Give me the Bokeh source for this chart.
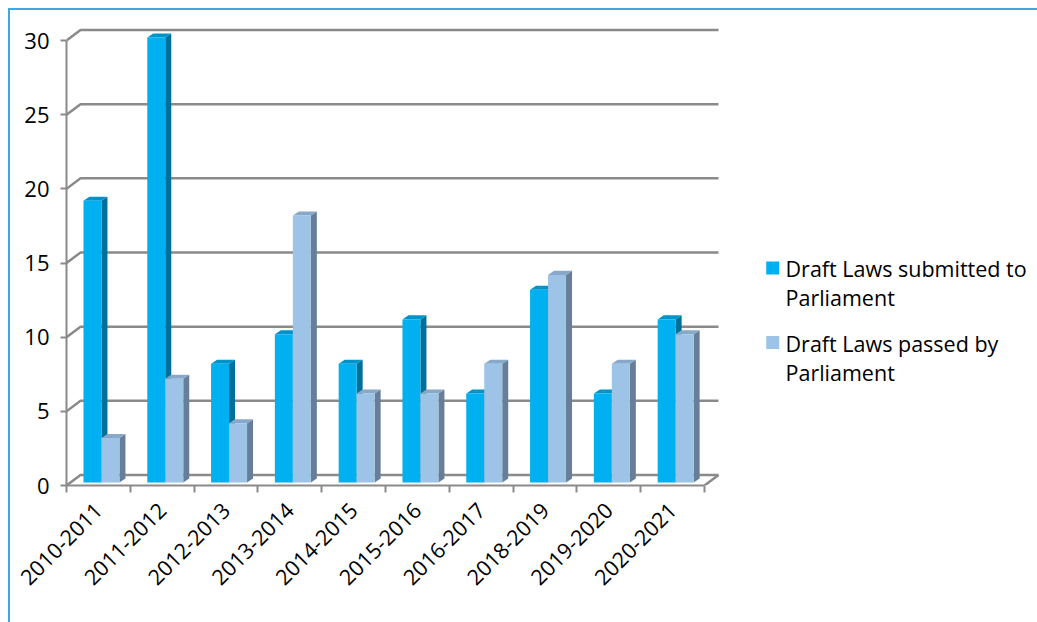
import numpy as np
from bokeh.plotting import figure
from bokeh.models import FixedTicker, Range1d
from bokeh.core.properties import value
from bokeh.embed import file_html
from bokeh.resources import INLINE

# ---- data ----
periods = ["2010-2011", "2011-2012", "2012-2013", "2013-2014", "2014-2015",
           "2015-2016", "2016-2017", "2018-2019", "2019-2020", "2020-2021"]
submitted = [19, 30, 8, 10, 8, 11, 6, 13, 6, 11]
passed = [3, 7, 4, 18, 6, 6, 8, 14, 8, 10]
y_ticks = [0, 5, 10, 15, 20, 25, 30]
legend_lines = [["Draft Laws submitted to", "Parliament"],
                ["Draft Laws passed by", "Parliament"]]

FONT = "Open Sans"
GRID = "#8a8a8a"

W, H = 1029, 614
p = figure(width=W, height=H, output_backend="svg", toolbar_location=None,
           x_range=Range1d(0, 15.22), y_range=Range1d(0, 31.35),
           min_border_left=58, min_border_right=0, min_border_top=12,
           min_border_bottom=H - 12 - 465)
p.outline_line_color = None
p.xgrid.visible = False
p.ygrid.visible = False
p.background_fill_color = "white"
p.border_fill_color = None
p.styles = {"margin-left": "8px", "margin-top": "8px",
            "box-shadow": "inset 2px 2px 0 #3fa5e3"}

# 3D geometry (in data units)
wall_dx, wall_dy = 0.22, 0.71      # back wall offset
n = len(periods)
wall_end = n + wall_dx

# back-wall gridlines with left diagonals
xs, ys = [], []
for v in y_ticks:
    xs.append([0, wall_dx, wall_end])
    ys.append([v, v + wall_dy, v + wall_dy])
xs.append([n, n + wall_dx])
ys.append([0, wall_dy])
p.multi_line(xs, ys, line_color=GRID, line_width=2.5)

# bars
bw = 0.282
off = [0.266, 0.266 + bw]
bar_dx, bar_dy = 0.094, 0.27
base = 0.2
series = [(submitted, "#00B0F0", "#0093C9", "#00709A"),
          (passed, "#9DC3E6", "#87A8C8", "#667E98")]
for k, (vals, cf, ct, cs) in enumerate(series):
    x0 = [i + off[k] for i in range(n)]
    x1 = [x + bw for x in x0]
    side_x = [[a, a + bar_dx, a + bar_dx, a] for a in x1]
    side_y = [[base, base + bar_dy, base + v + bar_dy, base + v] for v in vals]
    top_x = [[a, a + bar_dx, b + bar_dx, b] for a, b in zip(x0, x1)]
    top_y = [[base + v, base + v + bar_dy, base + v + bar_dy, base + v] for v in vals]
    p.patches(side_x, side_y, fill_color=cs, line_color=None)
    p.patches(top_x, top_y, fill_color=ct, line_color=None)
    p.quad(left=x0, right=x1, bottom=[base] * n, top=[base + v for v in vals],
           fill_color=cf, line_color=None)

# y axis
ya = p.yaxis[0]
ya.ticker = FixedTicker(ticks=y_ticks, minor_ticks=[])
ya.bounds = (0, 30)
ya.axis_line_color = GRID
ya.axis_line_width = 2
ya.major_tick_line_color = GRID
ya.major_tick_line_width = 2
ya.major_tick_out = 6
ya.major_tick_in = 0
ya.minor_tick_line_color = None
ya.major_label_text_font = FONT
ya.major_label_text_font_size = "22px"
ya.major_label_text_color = "#000000"
ya.major_label_standoff = 11

# x axis
xa = p.xaxis[0]
centers = [i + 0.5 for i in range(n)]
xa.ticker = FixedTicker(ticks=centers, minor_ticks=list(range(n + 1)))
xa.major_label_overrides = {c: lab for c, lab in zip(centers, periods)}
xa.bounds = (0, n)
xa.axis_line_color = GRID
xa.axis_line_width = 2
xa.major_tick_line_color = None
xa.minor_tick_line_color = GRID
xa.minor_tick_line_width = 2
xa.minor_tick_out = 7
xa.minor_tick_in = 0
xa.major_label_orientation = np.pi / 4
xa.major_label_text_font = FONT
xa.major_label_text_font_size = "21.5px"
xa.major_label_text_color = "#000000"
xa.major_label_standoff = 14

# legend (manual, two-line labels)
colors = ["#00B0F0", "#9DC3E6"]
sq_x = 11.07
tx = 11.27
sq_y = [14.66, 9.64]
line_y = [[14.63, 12.67], [9.57, 7.62]]
p.rect(x=[sq_x] * 2, y=sq_y, width=13, height=13, width_units="screen",
       height_units="screen", fill_color=colors, line_color=None)
txt_x, txt_y, txt = [], [], []
for lines, ly in zip(legend_lines, line_y):
    for t, yy in zip(lines, ly):
        txt_x.append(tx)
        txt_y.append(yy)
        txt.append(t)
p.text(x=txt_x, y=txt_y, text=txt, text_font=value(FONT), text_font_size="21.5px",
       text_baseline="middle", text_align="left", text_color="#000000")

open("out.html", "w").write(file_html(p, INLINE))
